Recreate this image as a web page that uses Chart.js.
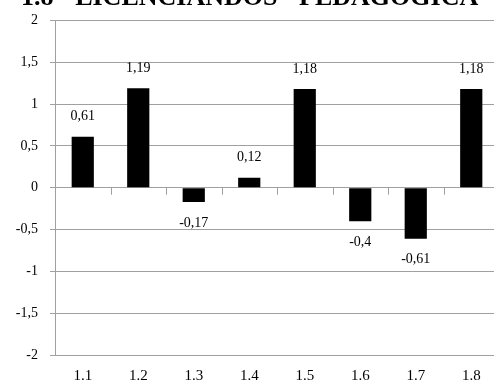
<!DOCTYPE html>
<html>
<head>
<meta charset="utf-8">
<script src="https://cdn.jsdelivr.net/npm/chart.js@4/dist/chart.umd.min.js"></script>
<style>
  html, body { margin: 0; padding: 0; background: #fff; overflow: hidden; }
  #wrap { width: 500px; height: 383px; }
</style>
</head>
<body>
<div id="wrap"><canvas id="grafico"></canvas></div>
<script>
const titulo = '1.8 - LICENCIANDOS - PEDAGOGICA';
const categorias = ['1.1', '1.2', '1.3', '1.4', '1.5', '1.6', '1.7', '1.8'];
const valores = [0.61, 1.19, -0.17, 0.12, 1.18, -0.4, -0.61, 1.18];
const ticksY = [-2, -1.5, -1, -0.5, 0, 0.5, 1, 1.5, 2];

const corGrade = '#a0a0a0';
const fonteSerif = "'Liberation Serif', 'Times New Roman', serif";

function virgula(v) {
  return String(v).replace('.', ',');
}

// titulo cortado no topo, como na imagem original
const pluginTitulo = {
  id: 'titulo',
  afterDraw(chart) {
    const ctx = chart.ctx;
    ctx.save();
    ctx.font = 'bold 26px ' + fonteSerif;
    ctx.fillStyle = '#000';
    ctx.textAlign = 'left';
    ctx.textBaseline = 'alphabetic';
    ctx.fillText(titulo, 21, 5);
    ctx.restore();
  }
};

// pequenos tracos no eixo zero entre as categorias
const pluginTracos = {
  id: 'tracos',
  beforeDatasetsDraw(chart) {
    const x = chart.scales.x;
    const y0 = chart.scales.y.getPixelForValue(0);
    const ctx = chart.ctx;
    ctx.save();
    ctx.strokeStyle = corGrade;
    ctx.lineWidth = 1;
    for (let i = 1; i < categorias.length; i++) {
      const px = Math.round((x.getPixelForValue(i - 1) + x.getPixelForValue(i)) / 2) + 0.5;
      ctx.beginPath();
      ctx.moveTo(px, y0);
      ctx.lineTo(px, y0 + 7);
      ctx.stroke();
    }
    ctx.restore();
  }
};

// rotulos de valor acima / abaixo das barras
const pluginRotulos = {
  id: 'rotulos',
  afterDatasetsDraw(chart) {
    const ctx = chart.ctx;
    const meta = chart.getDatasetMeta(0);
    ctx.save();
    ctx.font = '14px ' + fonteSerif;
    ctx.fillStyle = '#000';
    ctx.textAlign = 'center';
    ctx.textBaseline = 'middle';
    meta.data.forEach((bar, i) => {
      const v = valores[i];
      const yy = v >= 0 ? bar.y - 20 : bar.y + 21;
      ctx.fillText(virgula(v), bar.x, yy);
    });
    ctx.restore();
  }
};

new Chart(document.getElementById('grafico'), {
  type: 'bar',
  data: {
    labels: categorias,
    datasets: [{
      data: valores,
      backgroundColor: '#000',
      borderWidth: 0,
      barPercentage: 0.4,
      categoryPercentage: 1
    }]
  },
  options: {
    responsive: true,
    maintainAspectRatio: false,
    animation: false,
    layout: { padding: { top: 20, right: 1, left: 0, bottom: 0 } },
    plugins: {
      legend: { display: false },
      tooltip: { enabled: false }
    },
    scales: {
      x: {
        grid: { display: false, drawTicks: false },
        border: { display: false },
        ticks: {
          color: '#000',
          font: { family: fonteSerif, size: 15 },
          padding: 12,
          maxRotation: 0
        },
        afterFit(scale) { scale.height = 28; }
      },
      y: {
        min: -2,
        max: 2,
        afterBuildTicks(scale) {
          scale.ticks = ticksY.map(v => ({ value: v }));
        },
        grid: { color: corGrade, tickLength: 5, tickColor: corGrade },
        border: { display: true, color: corGrade },
        ticks: {
          color: '#000',
          font: { family: fonteSerif, size: 14 },
          padding: 12,
          callback: v => virgula(v)
        },
        afterFit(scale) { scale.width = 55; }
      }
    }
  },
  plugins: [pluginTracos, pluginRotulos, pluginTitulo]
});
</script>
</body>
</html>
